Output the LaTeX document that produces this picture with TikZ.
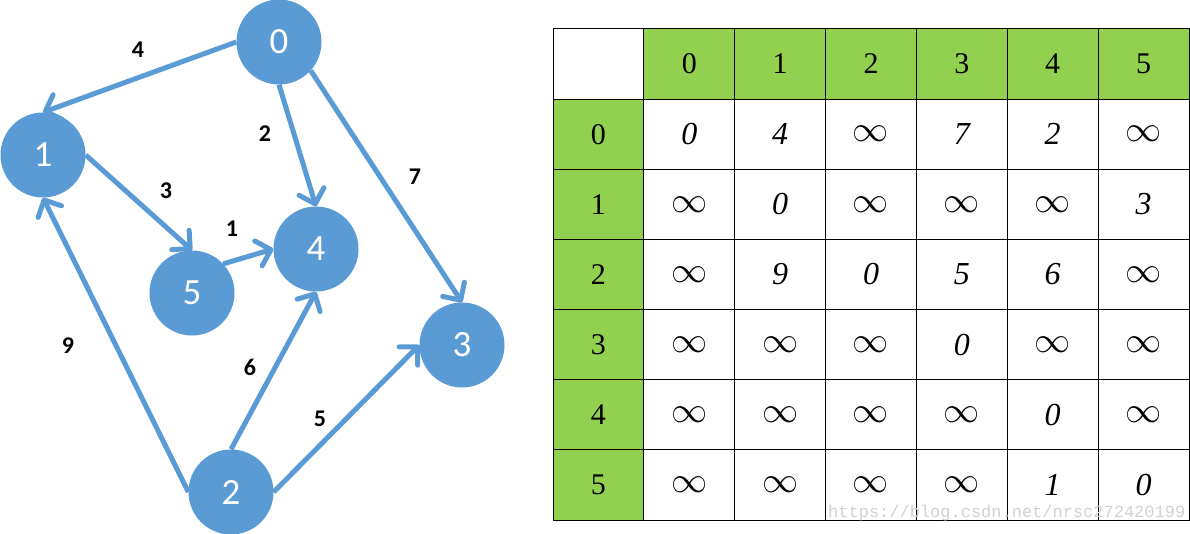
\documentclass[tikz,border=0pt]{standalone}
\usepackage{fontspec}
\usepackage{graphicx}
\setmainfont{Liberation Serif}
\newfontfamily\calibri{Carlito}
\newfontfamily\wmfont{Liberation Mono}
\usetikzlibrary{arrows.meta}
\definecolor{nodeblue}{HTML}{5B9BD5}
\definecolor{hdrgreen}{HTML}{92D050}
\newcommand\inff{\scalebox{1.45}{$\infty$}}
\begin{document}
\begin{tikzpicture}[x=1pt,y=-1pt,
  vertex/.style={circle,fill=nodeblue,minimum size=85pt,inner sep=0pt,text=white,
    font=\calibri\fontsize{37}{37}\selectfont},
  edge/.style={draw=nodeblue,line width=5pt,-{Straight Barb[length=13pt,width=26pt,round]}},
  wlabel/.style={font=\calibri\bfseries\fontsize{24}{24}\selectfont},
  cell/.style={draw=black,line width=1pt,minimum width=90.86pt,minimum height=70.14pt,inner sep=0pt},
  hcell/.style={cell,fill=hdrgreen,font=\fontsize{30}{30}\selectfont},
  ecell/.style={cell,fill=white,font=\itshape\fontsize{32}{32}\selectfont}]
\useasboundingbox[fill=white] (0,0) rectangle (1190,534);

% graph nodes
\node[vertex] (n0) at (279,42) {0};
\node[vertex] (n1) at (43,155) {1};
\node[vertex] (n2) at (231,492) {2};
\node[vertex] (n3) at (462,345) {3};
\node[vertex] (n4) at (316,249) {4};
\node[vertex] (n5) at (192,293) {5};

% edges
\draw[edge] (n0.west) -- (n1.north);
\draw[edge] (n0.south) -- (n4.north);
\draw[edge] (n0.-42) -- (n3.north);
\draw[edge] (n1.east) -- (n5.north);
\draw[edge] (n5.43) -- (n4.west);
\draw[edge] (n2.north) -- (n4.south);
\draw[edge] (n2.east) -- (n3.west);
\draw[edge] (n2.west) -- (n1.south);

% weights
\node[wlabel] (w01) at (138,50) {4};
\node[wlabel] (w04) at (265,134) {2};
\node[wlabel] (w03) at (415,177) {7};
\node[wlabel] (w15) at (166,191) {3};
\node[wlabel] (w54) at (232,229) {1};
\node[wlabel] (w21) at (68,346) {9};
\node[wlabel] (w24) at (250,367) {6};
\node[wlabel] (w23) at (320,419) {5};

% table
\node[cell,fill=white] (corner) at (598.43,64.07) {};
\foreach \k in {0,...,5}{
  \node[hcell] (h\k) at ({553+(\k+1.5)*90.857},64.07) {\k};
  \node[hcell] (r\k) at (598.43,{29+(\k+1.5)*70.143}) {\k};
}
\foreach \row [count=\r from 0] in {{0,4,\inff,7,2,\inff},{\inff,0,\inff,\inff,\inff,3},{\inff,9,0,5,6,\inff},{\inff,\inff,\inff,0,\inff,\inff},{\inff,\inff,\inff,\inff,0,\inff},{\inff,\inff,\inff,\inff,1,0}}{
  \foreach \v [count=\c from 0] in \row {
    \node[ecell] (e\r\c) at ({553+(\c+1.5)*90.857},{29+(\r+1.5)*70.143}) {\v};
  }
}

% watermark
\node[text=black!18,font=\wmfont\fontsize{17}{17}\selectfont,anchor=west,inner sep=0pt] (wm) at (828,513) {https://blog.csdn.net/nrsc272420199};
\end{tikzpicture}
\end{document}
